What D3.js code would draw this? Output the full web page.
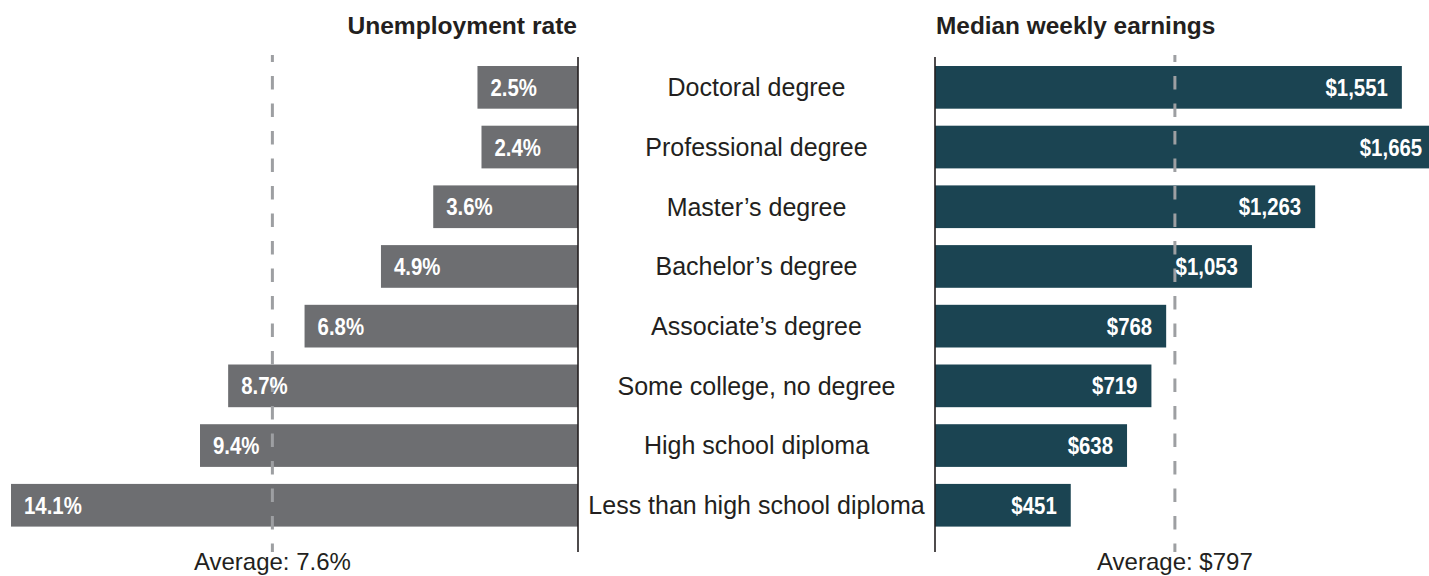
<!DOCTYPE html>
<html>
<head>
<meta charset="utf-8">
<script src="https://cdn.jsdelivr.net/npm/d3@7"></script>
<style>
  html, body { margin: 0; padding: 0; background: #ffffff; overflow: hidden; }
  svg { display: block; }
</style>
</head>
<body>
<svg id="chart" width="1429" height="576"></svg>
<script>
// ---- Data ----
const categories = [
  "Doctoral degree",
  "Professional degree",
  "Master\u2019s degree",
  "Bachelor\u2019s degree",
  "Associate\u2019s degree",
  "Some college, no degree",
  "High school diploma",
  "Less than high school diploma"
];
const unemploymentRate = [2.5, 2.4, 3.6, 4.9, 6.8, 8.7, 9.4, 14.1];
const weeklyEarnings = [1551, 1665, 1263, 1053, 768, 719, 638, 451];
const unemploymentAverage = 7.6;
const earningsAverage = 797;
const leftTitle = "Unemployment rate";
const rightTitle = "Median weekly earnings";

// ---- Layout ----
const leftAxisX = 578, rightAxisX = 935;
const svg = d3.select("#chart");

const y = d3.scaleBand()
  .domain(categories)
  .range([66, 526.6])
  .paddingInner(0.285)
  .paddingOuter(0);

const xL = d3.scaleLinear().domain([0, 14.1]).range([leftAxisX, 11]);
const xR = d3.scaleLinear().domain([0, 1665]).range([rightAxisX, rightAxisX + 1665 * 0.301]);

const grayBar = "#6d6e71";
const tealBar = "#1b4452";
const ink = "#231f20";
const regFont = "'Liberation Sans', Arial, sans-serif";
const condense = 0.85;

const rows = categories.map((c, i) => ({ cat: c, rate: unemploymentRate[i], earn: weeklyEarnings[i] }));
const fmtRate = d => d3.format(".1f")(d) + "%";
const fmtEarn = d => "$" + d3.format(",")(d);

// Titles
svg.append("text")
  .attr("x", leftAxisX - 1).attr("y", 34)
  .attr("text-anchor", "end")
  .attr("font-family", regFont).attr("font-weight", "bold")
  .attr("font-size", 24.6).attr("fill", ink)
  .text(leftTitle);
svg.append("text")
  .attr("x", rightAxisX + 1).attr("y", 34)
  .attr("text-anchor", "start")
  .attr("font-family", regFont).attr("font-weight", "bold")
  .attr("font-size", 24.4).attr("fill", ink)
  .text(rightTitle);

// Left bars
svg.append("g").selectAll("rect").data(rows).join("rect")
  .attr("x", d => xL(d.rate))
  .attr("y", d => y(d.cat))
  .attr("width", d => xL(0) - xL(d.rate))
  .attr("height", y.bandwidth())
  .attr("fill", grayBar);

// Right bars
svg.append("g").selectAll("rect").data(rows).join("rect")
  .attr("x", xR(0))
  .attr("y", d => y(d.cat))
  .attr("width", d => xR(d.earn) - xR(0))
  .attr("height", y.bandwidth())
  .attr("fill", tealBar);

// Average dashed lines (drawn over bars)
const dashTop = 55, dashBottom = 552;
[xL(unemploymentAverage), xR(earningsAverage)].forEach(x => {
  svg.append("line")
    .attr("x1", x).attr("x2", x)
    .attr("y1", dashTop).attr("y2", dashBottom)
    .attr("stroke", "#9d9fa2").attr("stroke-width", 3)
    .attr("stroke-dasharray", "13.5,14")
    .attr("stroke-dashoffset", 6.5);
});

// Axis lines
[leftAxisX, rightAxisX].forEach(x => {
  svg.append("line")
    .attr("x1", x).attr("x2", x)
    .attr("y1", 57).attr("y2", 552)
    .attr("stroke", ink).attr("stroke-width", 1.6);
});

// Value labels (condensed bold)
svg.append("g").selectAll("text").data(rows).join("text")
  .attr("transform", d => `translate(${xL(d.rate) + 13},${y(d.cat) + y.bandwidth() / 2 + 8.6}) scale(${condense},1)`)
  .attr("text-anchor", "start")
  .attr("font-family", regFont).attr("font-weight", "bold")
  .attr("font-size", 24).attr("fill", "#ffffff")
  .text(d => fmtRate(d.rate));

svg.append("g").selectAll("text").data(rows).join("text")
  .attr("transform", d => `translate(${xR(d.earn) - 14},${y(d.cat) + y.bandwidth() / 2 + 8.6}) scale(${condense},1)`)
  .attr("text-anchor", "end")
  .attr("font-family", regFont).attr("font-weight", "bold")
  .attr("font-size", 24).attr("fill", "#ffffff")
  .text(d => fmtEarn(d.earn));

// Category labels
const midX = (leftAxisX + rightAxisX) / 2;
svg.append("g").selectAll("text").data(rows).join("text")
  .attr("x", midX)
  .attr("y", d => y(d.cat) + y.bandwidth() / 2 + 8.8)
  .attr("text-anchor", "middle")
  .attr("font-family", regFont)
  .attr("font-size", 25).attr("fill", ink)
  .text(d => d.cat);

// Average labels
svg.append("text")
  .attr("x", xL(unemploymentAverage)).attr("y", 570)
  .attr("text-anchor", "middle")
  .attr("font-family", regFont).attr("font-size", 24).attr("fill", ink)
  .text("Average: " + fmtRate(unemploymentAverage));
svg.append("text")
  .attr("x", xR(earningsAverage)).attr("y", 570)
  .attr("text-anchor", "middle")
  .attr("font-family", regFont).attr("font-size", 24).attr("fill", ink)
  .text("Average: " + fmtEarn(earningsAverage));
</script>
</body>
</html>
